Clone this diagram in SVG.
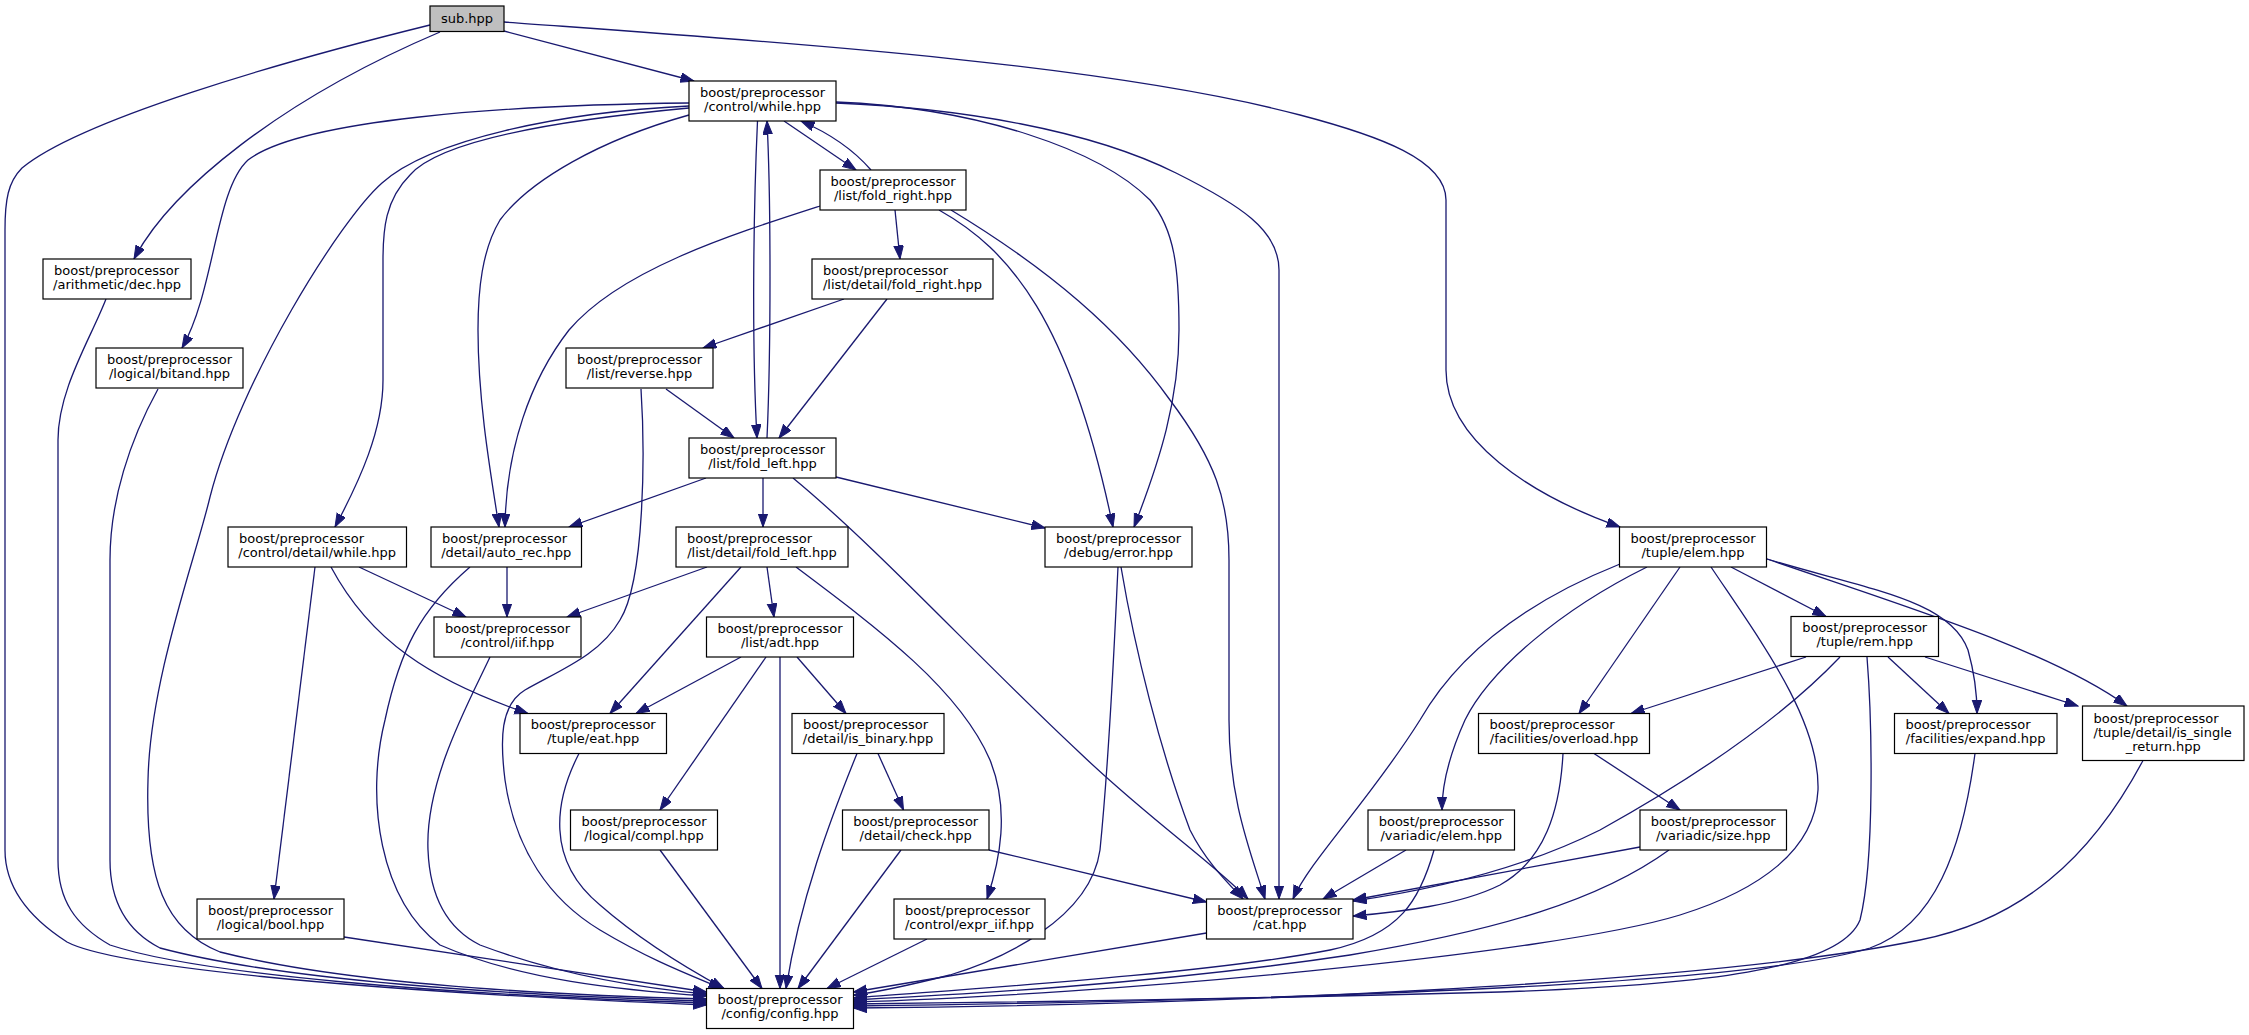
<svg xmlns="http://www.w3.org/2000/svg" width="2249" height="1035" viewBox="0 0 2249 1035">
<style>
.n rect{fill:#fff;stroke:#000;stroke-width:1.2}
.n text{font-family:"DejaVu Sans",sans-serif;font-size:13px;fill:#000}
.m{text-anchor:middle}
.e path{fill:none;stroke:#191970;stroke-width:1.3;marker-end:url(#a)}
</style>
<defs>
<marker id="a" markerWidth="15" markerHeight="11" refX="13.5" refY="4.8" orient="auto" markerUnits="userSpaceOnUse"><path d="M0,0 L13.5,4.8 L0,9.6 z" fill="#191970" stroke="#191970" stroke-width="1"/></marker>
</defs>
<rect width="2249" height="1035" fill="#fff"/>
<g class="e" id="edges">
<path d="M430,25 C280,62 80,120 22,168 C8,182 5,200 5,230 L5,850 C5,885 25,915 67,942 C110,965 330,990 706.5,1005"/>
<path d="M440,32 C280,100 170,190 134,259"/>
<path d="M504,31 L694,81"/>
<path d="M504,22 C750,40 1100,62 1300,115 C1380,136 1446,160 1446,200 L1446,370 C1446,440 1530,495 1620,527"/>
<path d="M106,299 C90,340 58,390 58,440 L58,860 C58,900 75,925 110,945 C200,975 450,995 706.5,1003"/>
<path d="M158,389 C130,440 110,500 110,560 L110,860 C110,900 125,930 160,948 C280,980 500,995 706.5,1001"/>
<path d="M784,121 L856,170"/>
<path d="M871,170 Q845,140 801,121"/>
<path d="M757.5,121 C753,220 752,350 757,438"/>
<path d="M767,438 C771,350 771,200 767,121"/>
<path d="M689,103 C500,105 300,120 248,160 C215,190 215,290 182,348"/>
<path d="M689,106 C560,112 430,140 382,183 C340,220 240,380 210,497 C195,560 150,680 148,780 C145,880 165,930 220,952 C350,985 550,995 706.5,999"/>
<path d="M689,108 C560,120 440,140 410,175 C385,200 383,230 383,260 L383,380 C383,430 360,480 335,527"/>
<path d="M689,115 C600,140 530,180 500,220 C482,250 478,290 478,330 C478,400 490,470 499,527"/>
<path d="M820,206 C730,235 620,270 569,330 C530,380 506,450 505,527"/>
<path d="M836,102 C980,108 1100,150 1150,200 C1175,230 1179,270 1179,330 C1179,400 1160,460 1134,527"/>
<path d="M836,103 C960,108 1090,130 1176,173 C1240,205 1279,230 1279,270 L1279,899"/>
<path d="M895,210 L900,259"/>
<path d="M939,210 C1010,250 1070,320 1113,527"/>
<path d="M951,210 C1050,270 1120,330 1170,400 C1215,460 1229,500 1229,560 L1229,720 C1229,800 1250,850 1265,899"/>
<path d="M706,478 L569,527"/>
<path d="M763,478 L763,527"/>
<path d="M836,477 L1045,528"/>
<path d="M793,478 C880,550 980,660 1080,753 C1150,820 1210,860 1248,899"/>
<path d="M844,299 L703,348"/>
<path d="M887,299 L779,438"/>
<path d="M666,389 L734,438"/>
<path d="M641,389 C645,450 645,580 620,620 C600,655 560,670 525,690 C500,705 500,740 505,780 C515,850 550,900 600,930 C650,960 690,975 722,988.5"/>
<path d="M315,567 L274,899"/>
<path d="M331,567 C370,640 430,680 528,713.5"/>
<path d="M359,567 L466,617"/>
<path d="M507,567 L507,617"/>
<path d="M470,567 C420,610 400,650 385,720 C365,800 380,900 440,945 C520,980 620,990 706.5,996"/>
<path d="M490,657 C470,700 425,780 428,850 C430,900 450,930 480,945 C560,975 640,988 706.5,994"/>
<path d="M707,567 L567,617"/>
<path d="M741,567 L610,713.5"/>
<path d="M767,567 L774,617"/>
<path d="M796,567 C880,630 960,690 990,760 C1010,810 1000,860 987,899"/>
<path d="M741,657 L636,713.5"/>
<path d="M766,657 L660,810"/>
<path d="M780,657 L780,988.5"/>
<path d="M797,657 L846,713.5"/>
<path d="M878,753.5 L903.5,810"/>
<path d="M857,753.5 C830,820 800,900 786,988.5"/>
<path d="M901,850 L798,988.5"/>
<path d="M989,850 L1206.5,902"/>
<path d="M927,939 L827,988.5"/>
<path d="M660,850 L762,988.5"/>
<path d="M579,753.5 C555,800 545,860 600,905 C640,940 690,970 724,988.5"/>
<path d="M344,937 L706.5,992"/>
<path d="M1118,567 C1114,650 1110,750 1100,850 C1090,920 1000,960 950,975 C910,985 880,992 853.5,995"/>
<path d="M1121,567 C1135,650 1160,750 1190,830 C1205,860 1225,880 1243,899"/>
<path d="M1206.5,933 L853.5,992"/>
<path d="M1620,564 C1530,600 1460,650 1420,720 C1370,800 1310,860 1293,899"/>
<path d="M1647,567 C1560,610 1490,670 1465,720 C1447,760 1442,790 1442,810"/>
<path d="M1680,567 L1579,713.5"/>
<path d="M1711,567 C1760,640 1820,720 1818,790 C1815,850 1760,890 1680,915 C1550,955 1100,995 853.5,1002"/>
<path d="M1731,567 L1826,616.5"/>
<path d="M1767,559 C1870,590 1950,600 1968,650 C1975,675 1977,695 1977,713.5"/>
<path d="M1767,559 C1900,605 2050,650 2127,706"/>
<path d="M1806,657 L1631,713.5"/>
<path d="M1840,657 C1780,720 1690,780 1600,830 C1520,870 1430,890 1353,901"/>
<path d="M1867,657 C1872,720 1875,860 1860,920 C1840,970 1700,985 1500,992 C1200,1000 950,1003 853.5,1004"/>
<path d="M1888,657 L1949,713.5"/>
<path d="M1925,657 L2078,706"/>
<path d="M1594,753.5 L1680,810"/>
<path d="M1563,753.5 C1560,810 1545,860 1500,885 C1460,905 1400,912 1353,916"/>
<path d="M1406,850 L1323,899"/>
<path d="M1434,850 C1420,900 1400,935 1330,950 C1200,975 950,990 853.5,998"/>
<path d="M1640,847 L1353,900"/>
<path d="M1669,850 C1600,900 1500,930 1350,955 C1150,985 950,995 853.5,1000"/>
<path d="M1975,753.5 C1962,850 1935,925 1870,948 C1750,985 1300,1000 853.5,1006"/>
<path d="M2143,760.5 C2090,860 2020,920 1920,940 C1700,985 1200,1005 853.5,1008"/>
</g>
<g class="n" id="sub"><rect x="430" y="6" width="74" height="25.5" style="fill:#bfbfbf"/><text class="m" x="467" y="22.7">sub.hpp</text></g>
<g class="n" id="dec"><rect x="43" y="259" width="148" height="40"/><text x="54" y="274.7">boost/preprocessor</text><text class="m" x="117" y="288.7">/arithmetic/dec.hpp</text></g>
<g class="n" id="while"><rect x="689" y="81" width="147" height="40"/><text class="m" x="762.5" y="96.7">boost/preprocessor</text><text class="m" x="762.5" y="110.7">/control/while.hpp</text></g>
<g class="n" id="fold_right"><rect x="820" y="170" width="146" height="40"/><text class="m" x="893" y="185.7">boost/preprocessor</text><text class="m" x="893" y="199.7">/list/fold_right.hpp</text></g>
<g class="n" id="detail_fold_right"><rect x="812" y="259" width="181" height="40"/><text x="823" y="274.7">boost/preprocessor</text><text class="m" x="902.5" y="288.7">/list/detail/fold_right.hpp</text></g>
<g class="n" id="reverse"><rect x="566" y="348" width="147" height="40"/><text class="m" x="639.5" y="363.7">boost/preprocessor</text><text class="m" x="639.5" y="377.7">/list/reverse.hpp</text></g>
<g class="n" id="bitand"><rect x="96" y="348" width="147" height="40"/><text class="m" x="169.5" y="363.7">boost/preprocessor</text><text class="m" x="169.5" y="377.7">/logical/bitand.hpp</text></g>
<g class="n" id="fold_left"><rect x="689" y="438" width="147" height="40"/><text class="m" x="762.5" y="453.7">boost/preprocessor</text><text class="m" x="762.5" y="467.7">/list/fold_left.hpp</text></g>
<g class="n" id="control_detail_while"><rect x="228" y="527" width="178.5" height="40"/><text x="239" y="542.7">boost/preprocessor</text><text class="m" x="317.2" y="556.7">/control/detail/while.hpp</text></g>
<g class="n" id="auto_rec"><rect x="431" y="527" width="150.5" height="40"/><text x="442" y="542.7">boost/preprocessor</text><text class="m" x="506.2" y="556.7">/detail/auto_rec.hpp</text></g>
<g class="n" id="detail_fold_left"><rect x="676" y="527" width="172" height="40"/><text x="687" y="542.7">boost/preprocessor</text><text class="m" x="762" y="556.7">/list/detail/fold_left.hpp</text></g>
<g class="n" id="error"><rect x="1045" y="527" width="147" height="40"/><text class="m" x="1118.5" y="542.7">boost/preprocessor</text><text class="m" x="1118.5" y="556.7">/debug/error.hpp</text></g>
<g class="n" id="tuple_elem"><rect x="1619.5" y="527" width="147" height="40"/><text class="m" x="1693" y="542.7">boost/preprocessor</text><text class="m" x="1693" y="556.7">/tuple/elem.hpp</text></g>
<g class="n" id="iif"><rect x="434" y="617" width="147" height="40"/><text class="m" x="507.5" y="632.7">boost/preprocessor</text><text class="m" x="507.5" y="646.7">/control/iif.hpp</text></g>
<g class="n" id="adt"><rect x="706.5" y="617" width="147" height="40"/><text class="m" x="780" y="632.7">boost/preprocessor</text><text class="m" x="780" y="646.7">/list/adt.hpp</text></g>
<g class="n" id="rem"><rect x="1791" y="616.5" width="147.5" height="40"/><text class="m" x="1864.7" y="632.2">boost/preprocessor</text><text class="m" x="1864.7" y="646.2">/tuple/rem.hpp</text></g>
<g class="n" id="eat"><rect x="520" y="713.5" width="146.5" height="40"/><text class="m" x="593.2" y="729.2">boost/preprocessor</text><text class="m" x="593.2" y="743.2">/tuple/eat.hpp</text></g>
<g class="n" id="is_binary"><rect x="792" y="713.5" width="152" height="40"/><text x="803" y="729.2">boost/preprocessor</text><text class="m" x="868" y="743.2">/detail/is_binary.hpp</text></g>
<g class="n" id="overload"><rect x="1478.5" y="713.5" width="171" height="40"/><text x="1489.5" y="729.2">boost/preprocessor</text><text class="m" x="1564" y="743.2">/facilities/overload.hpp</text></g>
<g class="n" id="expand"><rect x="1894.5" y="713.5" width="162.5" height="40"/><text x="1905.5" y="729.2">boost/preprocessor</text><text class="m" x="1975.7" y="743.2">/facilities/expand.hpp</text></g>
<g class="n" id="is_single_return"><rect x="2082.5" y="706" width="161.5" height="54.5"/><text x="2093.5" y="722.5">boost/preprocessor</text><text x="2093.5" y="736.5">/tuple/detail/is_single</text><text class="m" x="2163.2" y="750.5">_return.hpp</text></g>
<g class="n" id="compl"><rect x="570.5" y="810" width="147" height="40"/><text class="m" x="644" y="825.7">boost/preprocessor</text><text class="m" x="644" y="839.7">/logical/compl.hpp</text></g>
<g class="n" id="check"><rect x="842.5" y="810" width="146.5" height="40"/><text class="m" x="915.7" y="825.7">boost/preprocessor</text><text class="m" x="915.7" y="839.7">/detail/check.hpp</text></g>
<g class="n" id="variadic_elem"><rect x="1368" y="810" width="146.5" height="40"/><text class="m" x="1441.2" y="825.7">boost/preprocessor</text><text class="m" x="1441.2" y="839.7">/variadic/elem.hpp</text></g>
<g class="n" id="variadic_size"><rect x="1640" y="810" width="146.5" height="40"/><text class="m" x="1713.2" y="825.7">boost/preprocessor</text><text class="m" x="1713.2" y="839.7">/variadic/size.hpp</text></g>
<g class="n" id="bool"><rect x="197" y="899" width="147" height="40"/><text class="m" x="270.5" y="914.7">boost/preprocessor</text><text class="m" x="270.5" y="928.7">/logical/bool.hpp</text></g>
<g class="n" id="expr_iif"><rect x="894" y="899" width="151" height="40"/><text x="905" y="914.7">boost/preprocessor</text><text class="m" x="969.5" y="928.7">/control/expr_iif.hpp</text></g>
<g class="n" id="cat"><rect x="1206.5" y="899" width="146.5" height="40"/><text class="m" x="1279.7" y="914.7">boost/preprocessor</text><text class="m" x="1279.7" y="928.7">/cat.hpp</text></g>
<g class="n" id="config"><rect x="706.5" y="988.5" width="147" height="40"/><text class="m" x="780" y="1004.2">boost/preprocessor</text><text class="m" x="780" y="1018.2">/config/config.hpp</text></g>
</svg>
